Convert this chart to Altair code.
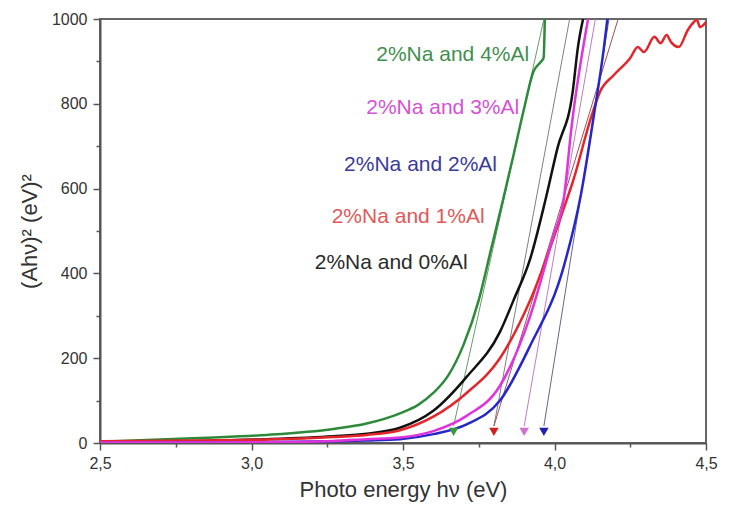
import altair as alt
import pandas as pd

# ---- data ----
series_names = ["2%Na and 4%Al", "2%Na and 0%Al", "2%Na and 1%Al", "2%Na and 2%Al", "2%Na and 3%Al"]

green_E = [2.5, 2.83, 3.05, 3.27, 3.38, 3.49, 3.55, 3.60, 3.65, 3.70, 3.75, 3.79, 3.83, 3.865, 3.90, 3.93, 3.955, 3.964, 3.968]
green_v = [3, 12, 19, 33, 46, 70, 90, 118, 160, 232, 337, 455, 573, 680, 790, 875, 899, 908, 1000]

black_E = [2.5, 2.83, 3.05, 3.27, 3.38, 3.49, 3.60, 3.71, 3.82, 3.865, 3.92, 3.97, 4.01, 4.06, 4.077, 4.097]
black_v = [2, 5, 9, 16, 22, 36, 76, 156, 262, 337, 435, 573, 696, 828, 932, 1009]

red_E = [2.5, 2.83, 3.05, 3.27, 3.38, 3.49, 3.60, 3.71, 3.82, 3.92, 4.04, 4.06, 4.12, 4.15, 4.196, 4.25,
         4.275, 4.295, 4.33, 4.35, 4.37, 4.384, 4.41, 4.44, 4.46, 4.47, 4.48, 4.5]
red_v = [4, 6, 8, 14, 19, 30, 62, 118, 200, 337, 573, 615, 766, 828, 868, 908,
         934, 922, 958, 943, 962, 946, 934, 974, 993, 998, 981, 993]

blue_E = [2.5, 2.83, 3.05, 3.27, 3.38, 3.49, 3.60, 3.71, 3.82, 3.92, 4.03, 4.087, 4.13, 4.163, 4.176]
blue_v = [0, 1, 2, 4, 6, 9, 21, 44, 100, 230, 415, 585, 773, 932, 1009]

magenta_E = [2.5, 2.83, 3.05, 3.27, 3.38, 3.49, 3.60, 3.71, 3.82, 3.92, 3.997, 4.03, 4.057, 4.113]
magenta_v = [1, 1, 2, 5, 9, 13, 28, 64, 135, 300, 490, 573, 750, 1009]

line_colors = ["#2d8a3a", "#111111", "#e3262b", "#2727c9", "#e033dd"]

# tangent lines (start at arrow, end at top)
tan_E0 = [3.667, 3.80, 3.80, 3.965, 3.90]
tan_v0 = [40, 40, 40, 40, 40]
tan_E1 = [3.965, 4.05, 4.21, 4.18, 4.135]
tan_v1 = [1000, 1000, 1000, 1000, 1000]
tan_colors = ["#6a9a6a", "#808080", "#a05050", "#66668a", "#c07cc0"]

# arrowheads
arrow_E = [3.667, 3.80, 3.90, 3.965]
arrow_v = [26, 26, 26, 26]
arrow_colors = ["#3a9a3a", "#d02020", "#d070d0", "#2020b0"]

# curve labels
label_text = ["2%Na and 4%Al", "2%Na and 3%Al", "2%Na and 2%Al", "2%Na and 1%Al", "2%Na and 0%Al"]
label_E = [3.664, 3.631, 3.558, 3.517, 3.461]
label_v = [915, 790, 656, 533, 424]
label_colors = ["#3f8f4f", "#d452d4", "#3a3a9a", "#e05858", "#2a2a2a"]

x_ticks = [2.5, 2.75, 3.0, 3.25, 3.5, 3.75, 4.0, 4.25, 4.5]
y_ticks = [0, 100, 200, 300, 400, 500, 600, 700, 800, 900, 1000]

FONT = "Liberation Sans"

xscale = alt.Scale(domain=[2.5, 4.5], nice=False, zero=False)
yscale = alt.Scale(domain=[0, 1000], nice=False)

major_x = "abs(datum.value*2 - round(datum.value*2)) < 0.01"
major_y = "datum.value % 200 == 0"

xaxis = alt.Axis(
    values=x_ticks,
    title="Photo energy h\u03bd (eV)",
    labelExpr=f"{major_x} ? replace(format(datum.value, '.1f'), '.', ',') : ''",
    tickSize={"condition": {"test": major_x, "value": 7}, "value": 4},
    grid=False, labelFlush=False, labelOverlap=False,
    labelFontSize=16, titleFontSize=22, labelPadding=5, titlePadding=8,
)
yaxis = alt.Axis(
    values=y_ticks,
    title="(Ah\u03bd)\u00b2 (eV)\u00b2",
    labelExpr=f"{major_y} ? format(datum.value, 'd') : ''",
    tickSize={"condition": {"test": major_y, "value": 7}, "value": 4},
    grid=False, labelOverlap=False,
    labelFontSize=16, titleFontSize=22, labelPadding=6, titlePadding=10,
)

Es = [green_E, black_E, red_E, blue_E, magenta_E]
vs = [green_v, black_v, red_v, blue_v, magenta_v]

layers = []
# tangent lines first (behind curves)
for i in range(len(tan_E0)):
    df = pd.DataFrame({"E": [tan_E0[i], tan_E1[i]], "v": [tan_v0[i], tan_v1[i]]})
    layers.append(
        alt.Chart(df).mark_line(color=tan_colors[i], strokeWidth=1, clip=True).encode(
            x=alt.X("E:Q", scale=xscale, axis=xaxis),
            y=alt.Y("v:Q", scale=yscale, axis=yaxis),
        )
    )

for i, name in enumerate(series_names):
    df = pd.DataFrame({"E": Es[i], "v": vs[i]})
    layers.append(
        alt.Chart(df).mark_line(color=line_colors[i], strokeWidth=2.5, interpolate="monotone", clip=True).encode(
            x=alt.X("E:Q", scale=xscale, axis=xaxis),
            y=alt.Y("v:Q", scale=yscale, axis=yaxis),
        )
    )

arrows_df = pd.DataFrame({"E": arrow_E, "v": arrow_v, "c": arrow_colors})
layers.append(
    alt.Chart(arrows_df).mark_point(shape="triangle-down", filled=True, size=90, opacity=1).encode(
        x=alt.X("E:Q", scale=xscale, axis=xaxis),
        y=alt.Y("v:Q", scale=yscale, axis=yaxis),
        color=alt.Color("c:N", scale=None),
    )
)

labels_df = pd.DataFrame({"E": label_E, "v": label_v, "t": label_text, "c": label_colors})
layers.append(
    alt.Chart(labels_df).mark_text(font=FONT, fontSize=21, align="center", baseline="middle").encode(
        x=alt.X("E:Q", scale=xscale, axis=xaxis),
        y=alt.Y("v:Q", scale=yscale, axis=yaxis),
        text="t:N",
        color=alt.Color("c:N", scale=None),
    )
)

chart = alt.layer(*layers).properties(
    width=606,
    height=424,
    padding={"left": 100, "top": 19, "right": 25, "bottom": 75},
    autosize=alt.AutoSizeParams(type="none"),
    background="white",
).configure_view(
    stroke="#666666", strokeWidth=2
).configure_axis(
    labelFont=FONT, titleFont=FONT, labelColor="#333333", titleColor="#333333",
    titleFontWeight="normal", domainColor="#555555", domainWidth=2,
    tickColor="#555555", tickWidth=1.5,
)

chart.save("out.html", embed_options={"renderer": "svg", "actions": False})
